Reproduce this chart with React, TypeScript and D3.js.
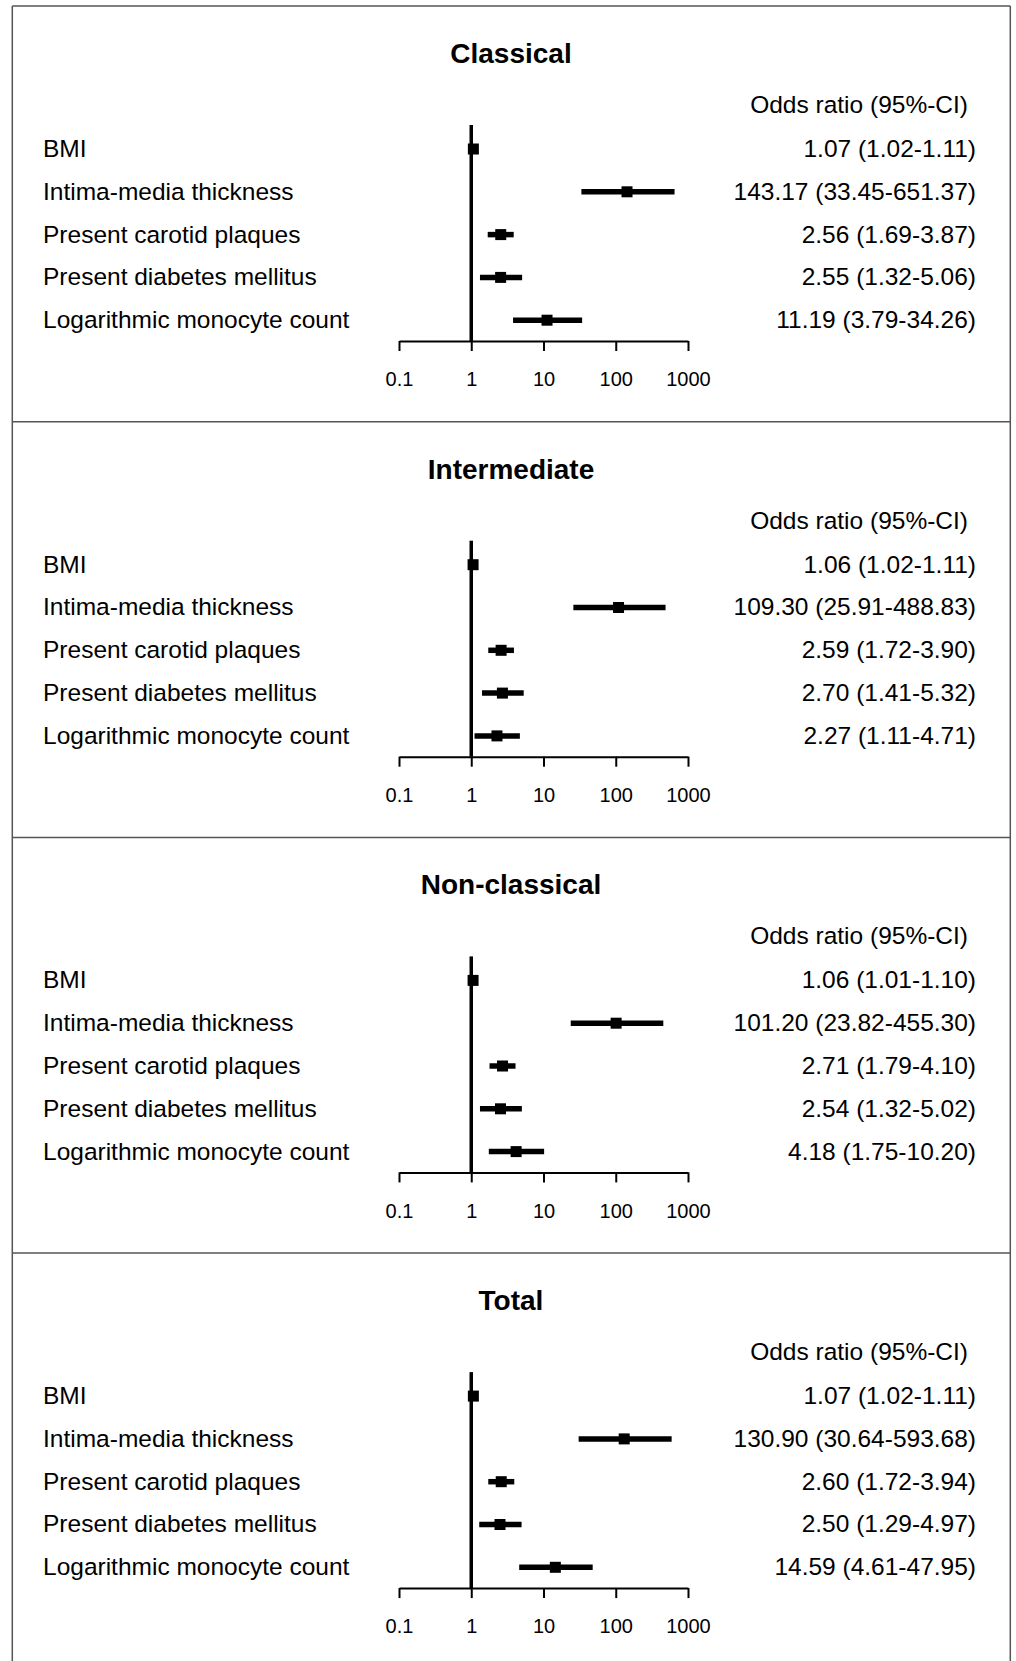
import React, { useEffect, useRef } from 'react'
import * as d3 from 'd3'

const panels = ['Classical', 'Intermediate', 'Non-classical', 'Total']
const variables = [
    'BMI',
    'Intima-media thickness',
    'Present carotid plaques',
    'Present diabetes mellitus',
    'Logarithmic monocyte count',
]
const tickValues = [0.1, 1, 10, 100, 1000]

// odds ratio, lower and upper CI per panel (same order as variables)
const orClassical = [1.07, 143.17, 2.56, 2.55, 11.19]
const loClassical = [1.02, 33.45, 1.69, 1.32, 3.79]
const hiClassical = [1.11, 651.37, 3.87, 5.06, 34.26]

const orIntermediate = [1.06, 109.3, 2.59, 2.7, 2.27]
const loIntermediate = [1.02, 25.91, 1.72, 1.41, 1.11]
const hiIntermediate = [1.11, 488.83, 3.9, 5.32, 4.71]

const orNonClassical = [1.06, 101.2, 2.71, 2.54, 4.18]
const loNonClassical = [1.01, 23.82, 1.79, 1.32, 1.75]
const hiNonClassical = [1.1, 455.3, 4.1, 5.02, 10.2]

const orTotal = [1.07, 130.9, 2.6, 2.5, 14.59]
const loTotal = [1.02, 30.64, 1.72, 1.29, 4.61]
const hiTotal = [1.11, 593.68, 3.94, 4.97, 47.95]

const estimates = [orClassical, orIntermediate, orNonClassical, orTotal]
const lowers = [loClassical, loIntermediate, loNonClassical, loTotal]
const uppers = [hiClassical, hiIntermediate, hiNonClassical, hiTotal]

const W = 1016
const H = 1661
const panelH = 415.7
const font = "'Liberation Sans', Arial, Helvetica, sans-serif"
const textSize = 24.5

const x = d3.scaleLog().domain([0.1, 1000]).range([399, 688])

const rowY0 = 149
const rowStep = 42.8
const axisY = 341

const fmt = (v: number) => v.toFixed(2)

function Axis() {
    const ref = useRef<SVGGElement>(null)
    useEffect(() => {
        if (!ref.current) return
        const g = d3.select(ref.current)
        g.call(
            d3
                .axisBottom(x)
                .tickValues(tickValues)
                .tickFormat(d => String(d))
                .tickSize(10)
                .tickSizeOuter(0)
                .tickPadding(21)
        )
        g.attr('font-family', font).attr('font-size', 20)
        g.selectAll('path').attr('stroke', '#000').attr('stroke-width', 2)
        g.selectAll('line').attr('stroke', '#000').attr('stroke-width', 2)
        g.selectAll('text').attr('fill', '#000')
    }, [])
    return <g ref={ref} transform={`translate(0,${axisY})`} />
}

function Panel({ index }: { index: number }) {
    const ors = estimates[index]
    const los = lowers[index]
    const his = uppers[index]
    const ry = (i: number) => rowY0 + rowStep * i
    return (
        <g transform={`translate(0,${panelH * index})`} fontFamily={font}>
            <text
                x={511}
                y={63}
                textAnchor='middle'
                fontSize={28}
                fontWeight='bold'
            >
                {panels[index]}
            </text>
            <text x={968} y={113} textAnchor='end' fontSize={textSize}>
                Odds ratio (95%-CI)
            </text>
            {variables.map((v, i) => (
                <text key={v} x={43} y={ry(i) + 8} fontSize={textSize}>
                    {v}
                </text>
            ))}
            {variables.map((v, i) => (
                <text
                    key={v}
                    x={976}
                    y={ry(i) + 8}
                    textAnchor='end'
                    fontSize={textSize}
                >
                    {`${fmt(ors[i])} (${fmt(los[i])}-${fmt(his[i])})`}
                </text>
            ))}
            <line
                x1={x(1)}
                x2={x(1)}
                y1={125}
                y2={axisY}
                stroke='#000'
                strokeWidth={3.5}
            />
            {variables.map((v, i) => (
                <g key={v}>
                    <line
                        x1={x(los[i])}
                        x2={x(his[i])}
                        y1={ry(i)}
                        y2={ry(i)}
                        stroke='#000'
                        strokeWidth={5.5}
                    />
                    <rect
                        x={x(ors[i]) - 5.5}
                        y={ry(i) - 5.5}
                        width={11}
                        height={11}
                        fill='#000'
                    />
                </g>
            ))}
            <Axis />
        </g>
    )
}

export default function App() {
    return (
        <svg
            width={W}
            height={H}
            style={{
                position: 'absolute',
                top: 0,
                left: 0,
                display: 'block',
                background: '#fff',
            }}
        >
            <rect width={W} height={H} fill='#fff' />
            {panels.map((p, i) => (
                <Panel key={p} index={i} />
            ))}
            <g stroke='#555' strokeWidth={1.5} fill='none'>
                <line x1={12.3} x2={12.3} y1={6} y2={H} />
                <line x1={1010.3} x2={1010.3} y1={6} y2={H} />
                {panels.map((p, i) => (
                    <line
                        key={p}
                        x1={12.3}
                        x2={1010.3}
                        y1={6 + panelH * i}
                        y2={6 + panelH * i}
                    />
                ))}
            </g>
        </svg>
    )
}
